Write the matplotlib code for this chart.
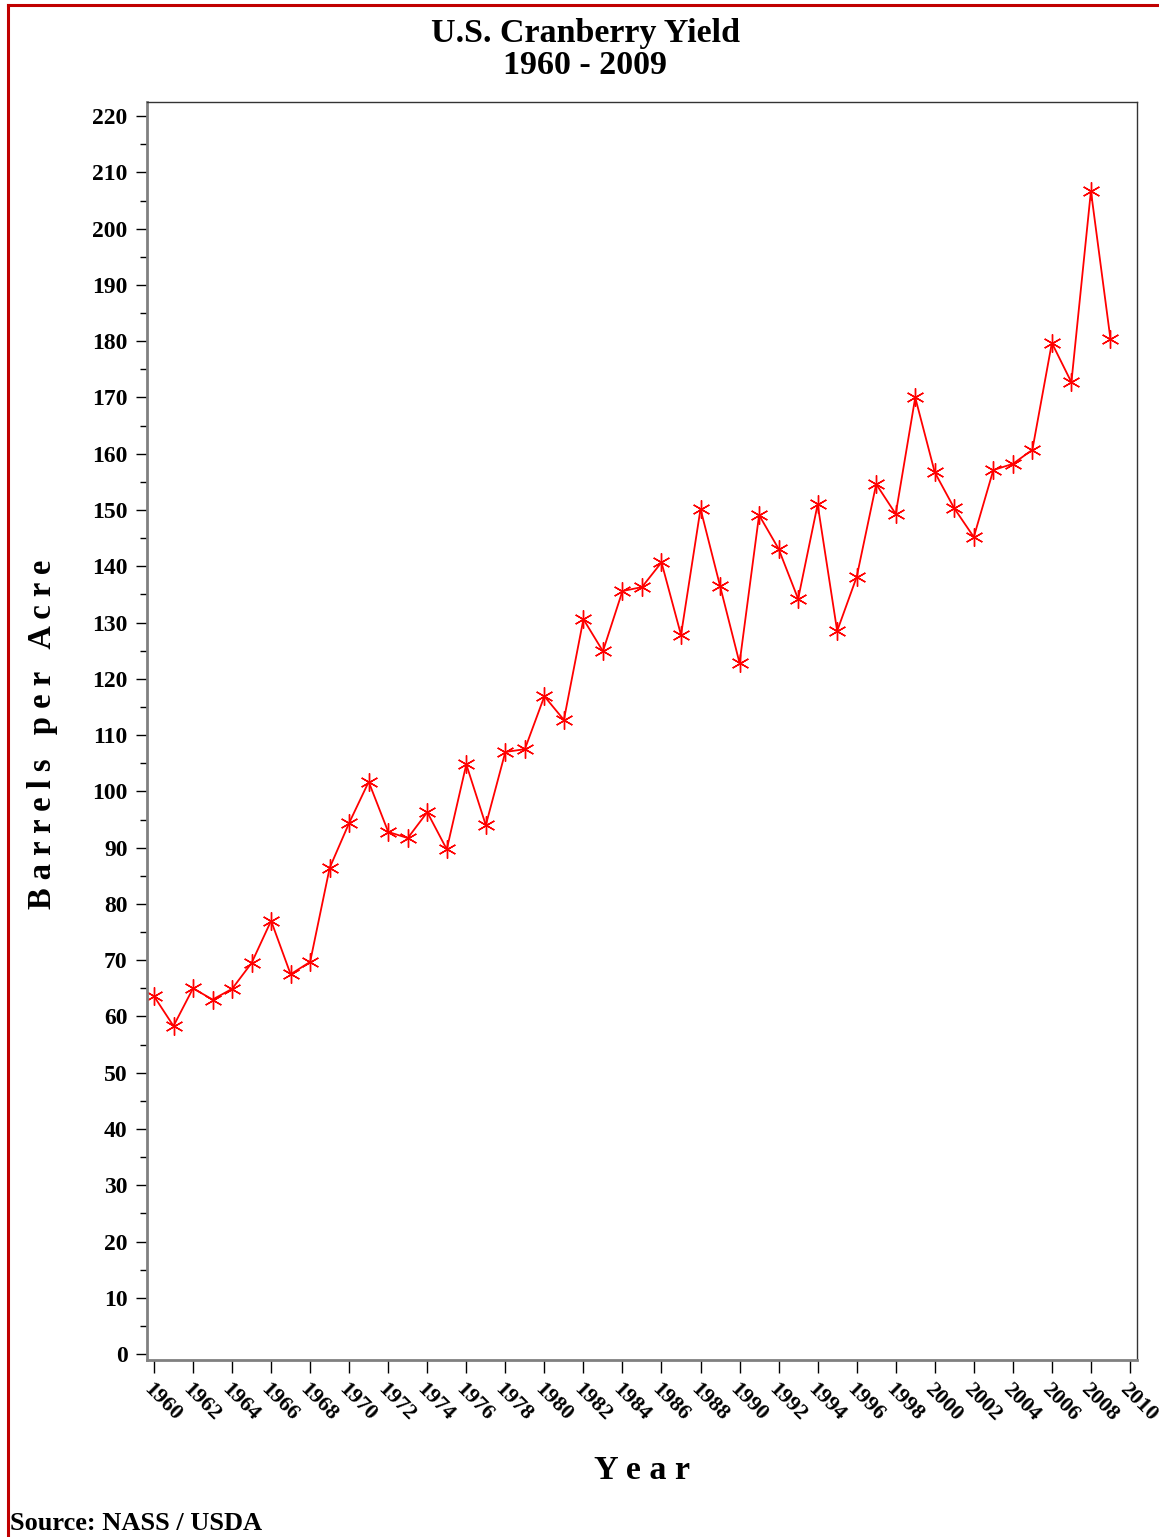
import matplotlib
matplotlib.use('Agg')
import matplotlib.pyplot as plt
from matplotlib.lines import Line2D
from matplotlib.ticker import MultipleLocator

years = list(range(1960, 2010))
yield_bpa = [63.6, 58.3, 65.0, 63.0, 64.9, 69.5, 77.0, 67.5, 69.7, 86.4,
             94.4, 101.7, 92.8, 91.7, 96.3, 89.7, 104.8, 94.0, 107.0, 107.5,
             116.9, 112.7, 130.6, 124.9, 135.6, 136.3, 140.7, 127.8, 150.2, 136.5,
             122.8, 149.1, 143.1, 134.2, 151.0, 128.5, 138.1, 154.6, 149.3, 170.0,
             156.7, 150.3, 145.2, 157.1, 158.2, 160.7, 179.7, 172.7, 206.7, 180.4]
x_ticks = list(range(1960, 2011, 2))
y_ticks = list(range(0, 221, 10))

plt.rcParams['font.family'] = ['Liberation Serif', 'DejaVu Serif']
plt.rcParams['font.weight'] = 'bold'

fig = plt.figure(figsize=(11.59, 15.37), dpi=100)
ax = fig.add_axes([0.1268, 0.1151, 0.8542, 0.8185])

ax.plot(years, yield_bpa, color='red', linewidth=1.3,
        marker=(6, 2, 0), markersize=13, markeredgewidth=1.0)

ax.set_xlim(1959.64, 2010.36)
ax.set_ylim(-1.07, 222.5)
ax.set_xticks(x_ticks)
ax.set_xticklabels([str(t) for t in x_ticks], rotation=-45, ha='left', va='top',
                   rotation_mode='anchor', fontsize=16, fontweight='bold')
ax.set_yticks(y_ticks)
ax.set_yticklabels([str(t) for t in y_ticks], fontsize=17, fontweight='bold')
ax.yaxis.set_minor_locator(MultipleLocator(5))

ax.tick_params(axis='y', which='major', length=8, width=1, direction='out', pad=6)
ax.tick_params(axis='y', which='minor', length=5, width=1, direction='out')
ax.tick_params(axis='x', which='major', length=9, width=1, direction='out', pad=5)

for side in ['left', 'bottom']:
    ax.spines[side].set_color('#808080')
    ax.spines[side].set_linewidth(2)
for side in ['top', 'right']:
    ax.spines[side].set_color('#333333')
    ax.spines[side].set_linewidth(1)

fig.text(0.505, 0.9785, 'U.S. Cranberry Yield', ha='center', va='center', fontsize=24.5, fontweight='bold')
fig.text(0.505, 0.9575, '1960 - 2009', ha='center', va='center', fontsize=24.5, fontweight='bold')
fig.text(0.0365, 0.522, 'B a r r e l s   p e r   A c r e', rotation=90, ha='center', va='center',
         fontsize=23.5, fontweight='bold')
fig.text(0.554, 0.0435, 'Y e a r', ha='center', va='center', fontsize=24.5, fontweight='bold')
fig.text(0.009, 0.0085, 'Source: NASS / USDA', ha='left', va='center', fontsize=19, fontweight='bold')

# red frame on top and left
fig.add_artist(Line2D([0.0065, 1.0], [0.9967, 0.9967], color='#c00000', linewidth=2.2,
                      transform=fig.transFigure))
fig.add_artist(Line2D([0.0065, 0.0065], [0.0, 0.9967], color='#c00000', linewidth=2.2,
                      transform=fig.transFigure))

fig.savefig('out.png', dpi=100)
